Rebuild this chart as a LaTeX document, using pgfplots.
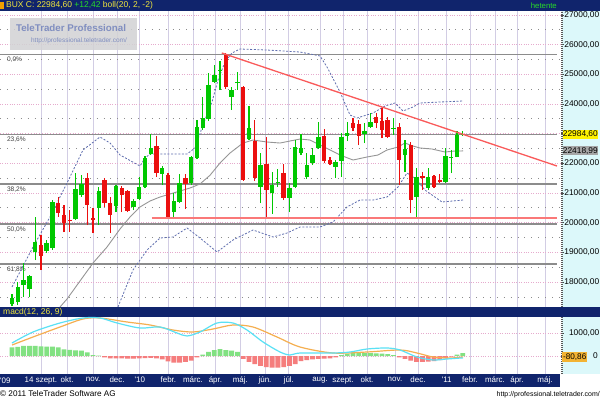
\documentclass[border=0pt]{standalone}
\usepackage{pgfplots}
\pgfplotsset{compat=1.18}
\usepackage{pgfplotstable}
\usepackage{fontspec}
\setmainfont{Liberation Sans}
\definecolor{navy}{RGB}{16,36,108}
\definecolor{ttyellow}{RGB}{240,230,60}
\definecolor{ttgreen}{RGB}{40,220,40}
\definecolor{cgreen}{RGB}{0,200,0}
\definecolor{cred}{RGB}{235,15,15}
\definecolor{bandblue}{RGB}{95,110,175}
\definecolor{bandgray}{RGB}{150,150,150}
\definecolor{fibgray}{RGB}{140,140,140}
\definecolor{trendred}{RGB}{250,90,90}
\definecolor{supred}{RGB}{250,120,120}
\definecolor{gridlav}{RGB}{210,205,228}
\definecolor{gridpink}{RGB}{230,170,205}
\definecolor{axcyan}{RGB}{220,248,250}
\definecolor{hgreen}{RGB}{130,225,130}
\definecolor{hred}{RGB}{245,125,125}
\definecolor{mcyan}{RGB}{90,225,245}
\definecolor{morange}{RGB}{245,175,80}
\definecolor{wmtext}{RGB}{128,142,192}
\definecolor{wmbox}{RGB}{210,210,212}
\definecolor{ttorange}{RGB}{240,160,0}
\tikzset{fib/.style={anchor=north west, inner sep=0pt, font=\fontsize{6.6}{7}\selectfont, text=black!75, yshift=-2.5bp}}

% weekly candles: index, open, high, low, close
\pgfplotstableread{
i o h l c
0 17261 17598 17180 17463
1 17328 18002 17227 17834
2 17901 18642 17497 18069
3 17766 18238 17497 18204
4 19013 20193 18743 19350
6 19047 19417 18980 19316
7 19148 20765 19081 20698
11 20125 21675 20091 21136
12 20934 21608 20867 21305
15 20496 21204 19923 21069
18 20563 21271 20361 21237
21 20530 20799 20428 20732
22 20799 21541 20765 21204
23 21204 22248 21170 22181
24 22316 22990 22282 22518
26 21642 21911 21271 21844
28 20361 21001 20125 20732
29 20698 21642 20664 21338
31 21338 22248 21271 22215
32 22181 23462 22147 23226
33 23192 24237 23125 23529
34 23495 25045 23428 24641
35 24742 25315 24708 24978
36 25113 25450 24473 25147
38 24237 24574 23799 24473
39 24708 25079 24473 24742
41 22821 23933 22787 23192
43 21204 22349 20664 21945
45 21001 21709 20294 21271
46 21338 21810 21204 21372
48 20833 21338 20361 21170
49 21204 22787 21170 22552
50 22349 22990 22282 22518
51 21541 22349 21473 21945
52 22012 22518 21945 22282
53 22518 23394 22484 22889
56 21878 22113 21507 22046
57 22080 23023 21541 22889
58 22922 23394 22754 23023
61 22990 23360 22686 23091
62 23226 23697 23192 23394
66 23158 23529 22956 23192
68 22282 22787 21709 22484
70 20867 21844 20193 21541
72 21170 21844 21102 21541
75 21372 22518 21338 22248
76 22181 22451 21675 22215
77 22215 23091 22200 22972
78 22945 23091 22922 22985
}\upcandles

\pgfplotstableread{
i o h l c
5 19249 19586 18406 18878
8 20664 20867 20193 20327
9 20260 20597 19687 19990
10 20091 20428 19687 20058
13 21507 21675 19923 20597
14 20159 20496 19653 20091
16 21439 21507 20530 20664
17 20664 20867 19653 20260
19 21170 21237 20361 20934
20 21069 21102 20361 20395
25 22585 22922 21541 21675
27 21608 21675 20125 20159
30 21507 21642 20462 21305
37 25652 25719 24506 24574
40 24574 24620 21410 21439
42 22754 23462 21406 21507
44 21979 22889 20159 21102
47 21675 21979 20765 20833
54 22922 23158 22012 22080
55 22113 22215 21945 21979
59 23360 23529 23091 23192
60 23327 23462 22619 22922
63 23563 23697 23192 23360
64 23428 23866 22855 23125
65 23462 23563 22855 22889
67 23226 23360 21271 22113
69 22619 22720 20327 20765
71 21574 21709 21102 21507
73 21574 21608 21170 21204
74 21439 21642 21338 21372
}\downcandles

\pgfplotstableread{
i v
0 378
1 400
2 435
3 435
4 435
5 420
6 404
7 404
8 380
9 290
10 261
11 240
12 232
13 159
14 43
15 20
33 60
34 180
35 260
36 300
37 260
38 230
39 180
57 40
58 90
59 120
60 130
61 130
62 120
63 110
64 100
65 80
66 40
77 60
78 120
}\histup

\pgfplotstableread{
i v
16 -60
17 -100
18 -100
19 -100
20 -110
21 -110
22 -100
23 -90
24 -80
25 -100
26 -150
27 -230
28 -290
29 -290
30 -260
31 -200
32 -60
40 -130
41 -250
42 -350
43 -430
44 -480
45 -500
46 -500
47 -480
48 -430
49 -350
50 -220
51 -180
52 -150
53 -120
54 -110
55 -100
56 -60
67 -60
68 -130
69 -200
70 -260
71 -260
72 -240
73 -220
74 -180
75 -100
76 -30
}\histdown

\begin{document}
\begin{tikzpicture}
\path[use as bounding box] (0,0) rectangle (600bp,400bp);
\fill[white] (0,0) rectangle (600bp,400bp);
\fill[axcyan] (562bp,93bp) rectangle (600bp,389bp);
\fill[axcyan] (562bp,26bp) rectangle (600bp,83bp);
\fill[navy] (0,389bp) rectangle (600bp,400bp);
\fill[navy] (0,83bp) rectangle (600bp,93bp);
\fill[navy] (0,13bp) rectangle (560bp,26bp);

% ---------------- price panel ----------------
\begin{axis}[
  at={(0bp,93bp)}, anchor=south west,
  scale only axis, width=562bp, height=296bp,
  xmin=-2.08, xmax=95.16, ymin=17160, ymax=27135,
  axis line style={draw=none},
  scaled y ticks=false, scaled x ticks=false,
  xtick={5.0,9.52,14.05,18.17,22.1,27.05,31.31,35.2,39.5,43.77,47.9,53.29,57.27,61.42,66.26,70.24,75.2,79.24,83.56,87.37,92.21},
  xticklabels={},
  ytick={18000,19000,20000,21000,22000,24000,25000,26000,27000},
  extra y ticks={23000}, extra y tick labels={},
  minor ytick={17500,18500,19500,20500,21500,22500,23500,24500,25500,26500},
  ytick pos=right, yticklabel pos=right,
  xtick style={draw=none},
  ytick style={draw=black!70, line width=0.8bp},
  major tick length=3bp, minor tick length=0pt, tick align=center,
  xmajorgrids, ymajorgrids, yminorgrids,
  major x grid style={gridlav, line width=0.8bp},
  major y grid style={gridpink, dotted, line width=0.8bp},
  minor y grid style={black!45, dash pattern=on 0.9bp off 6bp, line width=0.8bp},
  extra tick style={major y grid style={gridpink, dotted, line width=0.8bp}},
  yticklabel style={anchor=east, inner sep=0pt, xshift=36bp, text=black, font=\fontsize{8.4}{9}\selectfont},
  /pgf/number format/.cd, fixed, fixed zerofill, precision=2, use comma, 1000 sep={}, assume math mode=true
]
% Fibonacci levels
\addplot[fibgray, line width=1.2bp] coordinates {(-2.08,25680) (94.3,25680)};
\addplot[fibgray, line width=1.2bp] coordinates {(-2.08,22979) (94.3,22979)};
\addplot[fibgray, line width=1.2bp] coordinates {(-2.08,21308) (94.3,21308)};
\addplot[fibgray, line width=1.2bp] coordinates {(-2.08,19957) (94.3,19957)};
\addplot[fibgray, line width=1.2bp] coordinates {(-2.08,18606) (94.3,18606)};
\node[fib] at (axis cs:-0.9,25680) {0,0\%};
\node[fib] at (axis cs:-0.9,22979) {23,6\%};
\node[fib] at (axis cs:-0.9,21308) {38,2\%};
\node[fib] at (axis cs:-0.9,19957) {50,0\%};
\node[fib] at (axis cs:-0.9,18606) {61,8\%};
% Bollinger middle band
\addplot[bandgray, line width=0.9bp] coordinates {
(8.30,17160) (9.52,17429) (11.76,18036) (14.01,18642) (16.44,19182) (18.69,19789)
(20.42,20193) (22.15,20530) (23.88,20732) (25.61,20867) (27.34,20968) (29.07,21069)
(30.80,21170) (32.53,21305) (34.26,21600) (35.99,22012) (37.72,22349) (39.97,22686)
(41.70,22787) (44.12,22720) (46.37,22686) (48.10,22754) (49.83,22821) (51.56,22787)
(53.29,22619) (55.02,22451) (56.75,22282) (59.00,22113) (61.42,22215) (63.32,22282)
(64.88,22451) (66.78,22552) (67.99,22686) (69.38,22585) (70.59,22518) (72.66,22484)
(74.91,22383) (76.64,22417) (78.03,22419)};
% upper band
\addplot[bandblue, dash pattern=on 2bp off 1.6bp, line width=0.8bp] coordinates {
(0,17834) (3.63,19182) (6.57,20193) (9.52,21338) (12.28,22451) (15.22,22889)
(16.96,22686) (18.69,22282) (22.15,21911) (23.01,22181) (23.88,22316) (26.82,22316)
(30.28,22316) (31.66,22518) (33.04,23293) (34.60,24068) (35.64,24809) (36.85,25416)
(38.06,25719) (39.45,25854) (44.12,25820) (49.83,25753) (53.29,25619) (54.50,25248)
(56.75,24405) (58.48,23630) (59.69,23529) (62.46,23697) (64.53,23933) (66.26,24035)
(67.65,23765) (69.38,23900) (70.59,24035) (74.05,24068) (78.03,24102)};
% lower band
\addplot[bandblue, dash pattern=on 2bp off 1.6bp, line width=0.8bp] coordinates {
(18.34,17160) (19.03,17497) (20.93,18406) (23.36,19081) (25.61,19485) (27.85,19519)
(30.28,19822) (32.53,19485) (35.47,19013) (38.24,19417) (41.70,19755) (45.16,19519)
(47.58,19653) (49.83,19856) (53.29,19856) (55.54,20024) (57.96,20530) (60.21,20765)
(62.46,20765) (64.88,20867) (66.78,21204) (68.34,21675) (69.72,21507) (71.45,21102)
(74.39,20698) (78.03,20765)};
% candles
\addplot[cgreen, line width=1.2bp, quiver={u=0, v=\thisrow{h}-\thisrow{l}}] table[x=i, y=l] {\upcandles};
\addplot[cgreen, line width=4.4bp, quiver={u=0, v=\thisrow{c}-\thisrow{o}}] table[x=i, y=o] {\upcandles};
\addplot[cred, line width=1.2bp, quiver={u=0, v=\thisrow{h}-\thisrow{l}}] table[x=i, y=l] {\downcandles};
\addplot[cred, line width=4.4bp, quiver={u=0, v=\thisrow{c}-\thisrow{o}}] table[x=i, y=o] {\downcandles};
% trend and support lines
\addplot[trendred, line width=1.3bp] coordinates {(36.3,25719) (94.3,21911)};
\addplot[supred, line width=2bp] coordinates {(24.2,20170) (94.3,20170)};
\end{axis}

% ---------------- MACD panel ----------------
\begin{axis}[
  at={(0bp,26bp)}, anchor=south west,
  scale only axis, width=562bp, height=57bp,
  xmin=-2.08, xmax=95.16, ymin=-782.6, ymax=1695.8,
  axis line style={draw=none},
  scaled y ticks=false, scaled x ticks=false,
  xtick={5.0,9.52,14.05,18.17,22.1,27.05,31.31,35.2,39.5,43.77,47.9,53.29,57.27,61.42,66.26,70.24,75.2,79.24,83.56,87.37,92.21},
  xticklabels={14 szept.,okt.,nov.,dec.,\textquotesingle10,febr.,márc.,ápr.,máj.,jún.,júl.,aug.,szept.,okt.,nov.,dec.,\textquotesingle11,febr.,márc.,ápr.,máj.},
  xticklabel style={text=white, inner sep=1.2bp, font=\fontsize{8}{9}\selectfont},
  ytick={0,1000}, yticklabels={{},{1000,00}},
  ytick pos=right, yticklabel pos=right,
  xtick style={draw=none},
  ytick style={draw=black!70, line width=0.8bp},
  major tick length=3bp, tick align=center,
  xmajorgrids, ymajorgrids,
  major x grid style={gridlav, line width=0.8bp},
  major y grid style={gridpink, dotted, line width=0.8bp},
  yticklabel style={anchor=east, inner sep=0pt, xshift=36bp, text=black, font=\fontsize{8.4}{9}\selectfont},
]
\addplot[ybar, bar width=4.8bp, bar shift=0pt, fill=hgreen, draw=none] table[x=i, y=v] {\histup};
\addplot[ybar, bar width=4.8bp, bar shift=0pt, fill=hred, draw=none] table[x=i, y=v] {\histdown};
\addplot[morange, line width=1.2bp, smooth, tension=0.5] coordinates {
(0,478) (3.63,826) (8.30,1261) (12.28,1609) (15.22,1652) (19.90,1478) (23.88,1348)
(27.85,1130) (31.31,1044) (34.78,1174) (38.24,1348) (41.70,1261) (45.85,826) (49.83,391)
(55.54,130) (61.42,174) (67.13,261) (70.07,130) (72.84,-43) (75.78,-87) (78.03,-43)};
\addplot[mcyan, line width=1.2bp, smooth, tension=0.5] coordinates {
(0,565) (3.63,1044) (8.30,1435) (12.28,1652) (15.22,1652) (18.17,1435) (22.15,1217)
(25.61,1261) (28.55,1000) (30.28,870) (32.53,1044) (35.47,1435) (38.24,1435) (40.66,1130)
(43.43,609) (46.37,174) (48.10,43) (49.83,130) (55.54,130) (58.48,174) (61.42,304)
(64.88,348) (67.13,261) (70.07,-43) (72.84,-174) (75.26,-130) (78.03,-81)};
\end{axis}

% right axis dotted lines
\draw[black!65, dash pattern=on 0.8bp off 1.2bp, line width=1.4bp] (562bp,93bp) -- (562bp,389bp);
\draw[black!65, dash pattern=on 0.8bp off 1.2bp, line width=1.4bp] (562bp,26bp) -- (562bp,83bp);

% highlighted price labels
\fill[yellow] (562.5bp,261.2bp) rectangle (598bp,270.3bp);
\node[anchor=east, inner sep=0pt, font=\fontsize{8.4}{9}\selectfont] at (598bp,265.7bp) {22984,60};
\fill[black!35] (562.5bp,244.8bp) rectangle (598bp,253.6bp);
\node[anchor=east, inner sep=0pt, font=\fontsize{8.4}{9}\selectfont] at (598bp,249.2bp) {22418,99};
\fill[ttorange!80] (562bp,38bp) rectangle (587bp,47.5bp);
\node[anchor=east, inner sep=0pt, font=\fontsize{8.2}{9}\selectfont] at (586.5bp,42.7bp) {-80,86};
\node[anchor=east, inner sep=0pt, font=\fontsize{8.4}{9}\selectfont] at (598bp,44.5bp) {0};

% title bars
\fill[ttorange] (0,391bp) rectangle (3.5bp,398bp);
\node[anchor=west, inner sep=0pt, font=\fontsize{8.5}{9}\selectfont] at (6bp,394.5bp)
  {\textcolor{ttyellow}{BUX C: 22984,60} \textcolor{ttgreen}{+12,42} \textcolor{ttyellow}{boll(20, 2, -2)}};
\node[anchor=east, inner sep=0pt, font=\fontsize{7.8}{9}\selectfont, text=ttgreen] at (557bp,394.5bp) {hetente};
\node[anchor=west, inner sep=0pt, font=\fontsize{8.5}{9}\selectfont, text=ttyellow] at (3bp,88bp) {macd(12, 26, 9)};
\node[anchor=west, inner sep=0pt, font=\fontsize{8}{9}\selectfont, text=white] at (0bp,19.5bp) {\textquotesingle09};

% watermark
\fill[wmbox, opacity=0.85] (10bp,350bp) rectangle (137bp,382bp);
\node[inner sep=0pt, font=\bfseries\fontsize{9.8}{10}\selectfont, text=wmtext] at (71bp,371.5bp) {TeleTrader Professional};
\node[inner sep=0pt, font=\fontsize{6.5}{7}\selectfont, text=wmtext] at (79bp,359.5bp) {http://professional.teletrader.com/};

% footer
\node[anchor=west, inner sep=0pt, font=\fontsize{8.2}{9}\selectfont] at (0bp,6.5bp) {© 2011 TeleTrader Software AG};
\node[anchor=east, inner sep=0pt, font=\fontsize{7}{8}\selectfont] at (600bp,5bp) {http://professional.teletrader.com/};
\end{tikzpicture}
\end{document}
